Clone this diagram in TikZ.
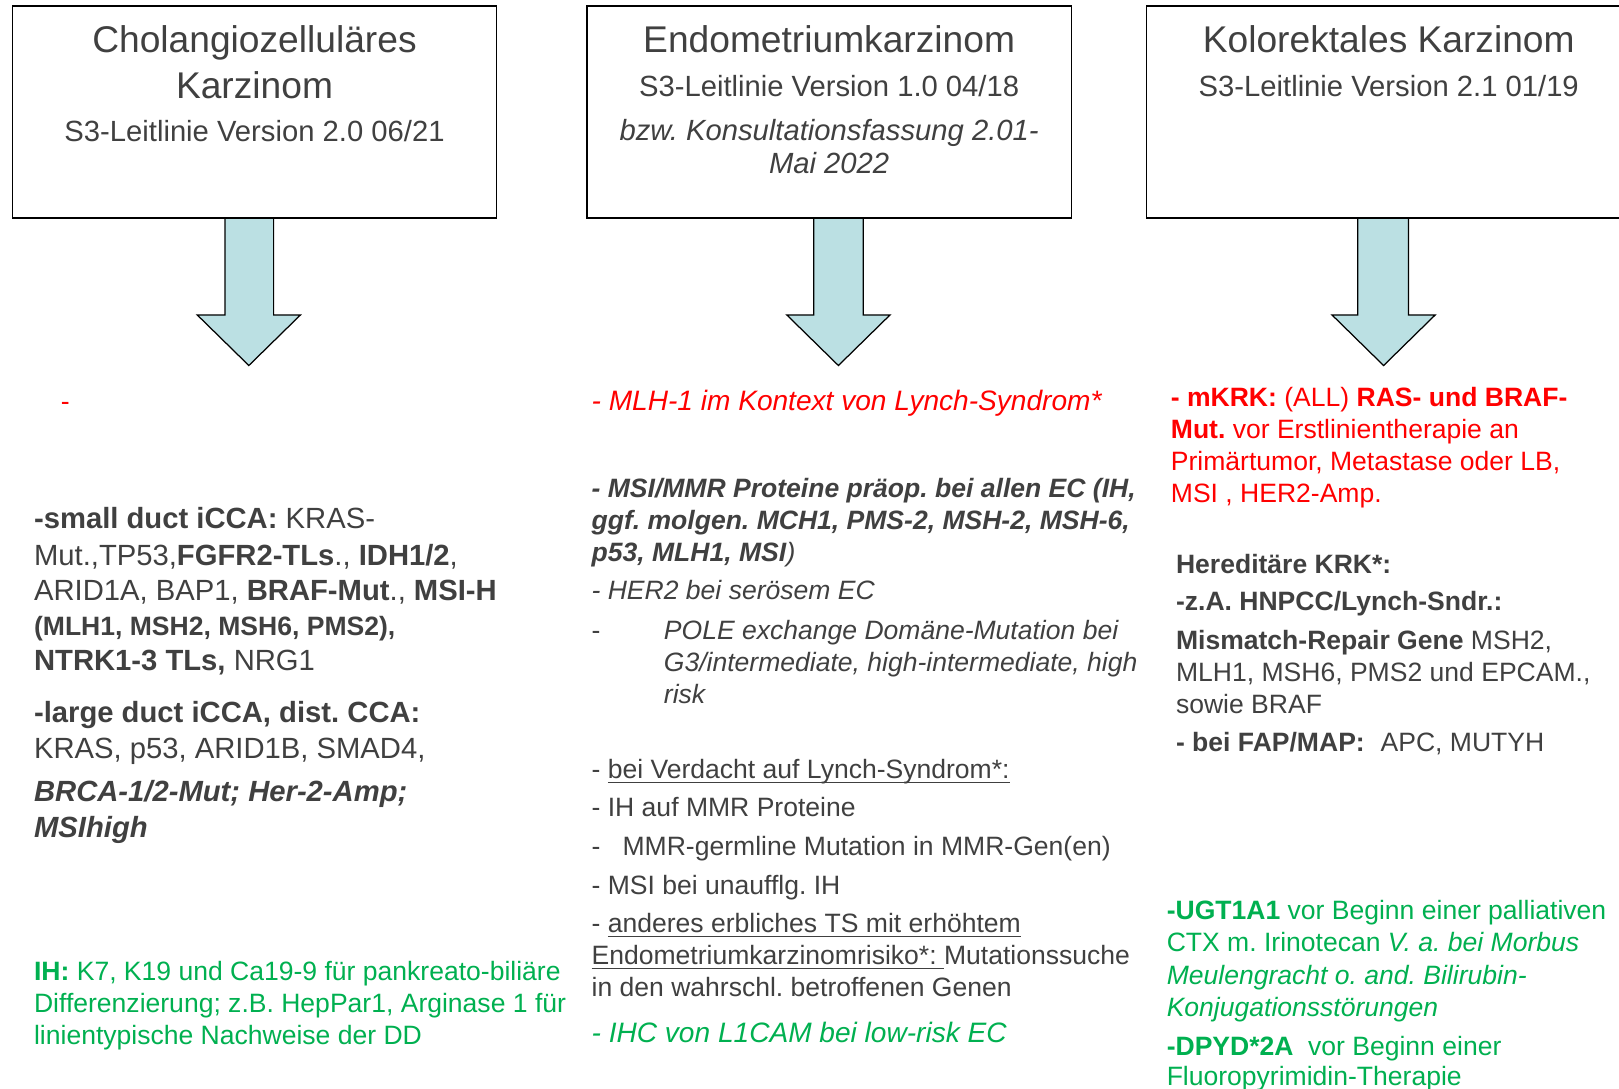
\documentclass[tikz,border=0pt]{standalone}
\usepackage{fontspec}
\setmainfont{Liberation Sans}
\frenchspacing
\newsavebox{\myulbox}
\newcommand{\myul}[1]{\sbox{\myulbox}{#1}\rlap{\rule[-4.5pt]{\wd\myulbox}{1.3pt}}\usebox{\myulbox}}
\definecolor{txtgray}{HTML}{404040}
\definecolor{myred}{HTML}{FF0000}
\definecolor{mygreen}{HTML}{00B050}
\definecolor{arrowblue}{HTML}{BBE0E3}
\newcommand{\fsbody}{\fontsize{25.7pt}{30pt}\selectfont}
\newcommand{\fsbig}{\fontsize{28.3pt}{33pt}\selectfont}
\newcommand{\fsred}{\fontsize{27.2pt}{32pt}\selectfont}
\newcommand{\fstitle}{\fontsize{36pt}{42pt}\selectfont}
\newcommand{\fssub}{\fontsize{28.3pt}{33pt}\selectfont}
\tikzset{
  tx/.style={anchor=base west, inner sep=0pt, outer sep=0pt, text=txtgray, font=\fsbody},
  txl/.style={tx, font=\fsbig},
  redtx/.style={tx, text=myred},
  greentx/.style={tx, text=mygreen},
  ttl/.style={anchor=base, inner sep=0pt, text=txtgray, font=\fstitle},
  subttl/.style={anchor=base, inner sep=0pt, text=txtgray, font=\fssub},
  box/.style={draw=black, line width=1.4pt, inner sep=0pt, minimum width=469pt, minimum height=205pt},
  blockarrow/.style={draw=black, line width=1.2pt, fill=arrowblue, line join=miter},
}
\begin{document}
\begin{tikzpicture}[x=1pt,y=-1pt]
\useasboundingbox (0,0) rectangle (1568,1054);
\fill[white] (0,0) rectangle (1568,1054);
\clip (0,0) rectangle (1568,1054);

% block arrows
\draw[blockarrow] (218,211) -- (265,211) -- (265,305) -- (291,305) -- (241,354) -- (191,305) -- (218,305) -- cycle;
\draw[blockarrow] (788,211) -- (836,211) -- (836,305) -- (862,305) -- (812,354) -- (762,305) -- (788,305) -- cycle;
\draw[blockarrow] (1315,211) -- (1364,211) -- (1364,305) -- (1390,305) -- (1340,354) -- (1290,305) -- (1315,305) -- cycle;

% boxes
\node[box] (b1) at (246.5,108.5) {};
\node[box] (b2) at (803,108.5) {};
\node[box] (b3) at (1345,108.5) {};

% titles
\node[ttl] (t1a) at (246.5,51) {Cholangiozelluläres};
\node[ttl] (t1b) at (246.5,95) {Karzinom};
\node[subttl] (t1c) at (246.5,137.5) {S3-Leitlinie Version 2.0 06/21};
\node[ttl] (t2a) at (803,51) {Endometriumkarzinom};
\node[subttl] (t2b) at (803,93.5) {S3-Leitlinie Version 1.0 04/18};
\node[subttl, font=\fssub\itshape] (t2c) at (803,136.5) {bzw. Konsultationsfassung 2.01-};
\node[subttl, font=\fssub\itshape] (t2d) at (803,168.5) {Mai 2022};
\node[ttl] (t3a) at (1345,51) {Kolorektales Karzinom};
\node[subttl] (t3b) at (1345,93.5) {S3-Leitlinie Version 2.1 01/19};

\begin{scope}[shift={(0,2)}]
% left column
\node[redtx] (l0) at (59,396) {-};
\node[txl] (l1) at (33,510) {\textbf{-small duct iCCA:} KRAS-};
\node[txl] (l2) at (33,546) {Mut.,TP53,\textbf{FGFR2-TLs}., \textbf{IDH1/2},};
\node[txl] (l3) at (33,580) {ARID1A, BAP1, \textbf{BRAF-Mut}., \textbf{MSI-H}};
\node[tx] (l4) at (33,613) {\textbf{(MLH1, MSH2, MSH6, PMS2),}};
\node[txl] (l5) at (33,647) {\textbf{NTRK1-3 TLs,} NRG1};
\node[txl] (l6) at (33,698) {\textbf{-large duct iCCA, dist. CCA:}};
\node[txl] (l7) at (33,733) {KRAS, p53, ARID1B, SMAD4,};
\node[txl] (l8) at (33,774) {\textbf{\textit{BRCA-1/2-Mut; Her-2-Amp;}}};
\node[txl] (l9) at (33,809) {\textbf{\textit{MSIhigh}}};
\node[greentx] (g1) at (33,948) {\textbf{IH:} K7, K19 und Ca19-9 für pankreato-biliäre};
\node[greentx] (g2) at (33,979) {Differenzierung; z.B. HepPar1, Arginase 1 für};
\node[greentx] (g3) at (33,1010) {linientypische Nachweise der DD};

% middle column
\node[redtx, font=\fsred\itshape] (m1) at (573,396) {- MLH-1 im Kontext von Lynch-Syndrom*};
\node[tx] (m2) at (573,480) {\textbf{\textit{- MSI/MMR Proteine präop. bei allen EC (IH,}}};
\node[tx] (m3) at (573,511) {\textbf{\textit{ggf. molgen. MCH1, PMS-2, MSH-2, MSH-6,}}};
\node[tx] (m4) at (573,542) {\textbf{\textit{p53, MLH1, MSI}}\textit{)}};
\node[tx] (m5) at (573,579) {\textit{- HER2 bei serösem EC}};
\node[tx] (m6a) at (573,617) {-};
\node[tx] (m6) at (643,617) {\textit{POLE exchange Domäne-Mutation bei}};
\node[tx] (m7) at (643,648) {\textit{G3/intermediate, high-intermediate, high}};
\node[tx] (m8) at (643,679) {\textit{risk}};
\node[tx] (m9) at (573,752) {- \myul{bei Verdacht auf Lynch-Syndrom*:}};
\node[tx] (m10) at (573,789) {- IH auf MMR Proteine};
\node[tx] (m11a) at (573,827) {-};
\node[tx] (m11) at (603,827) {MMR-germline Mutation in MMR-Gen(en)};
\node[tx] (m12) at (573,864) {- MSI bei unaufflg. IH};
\node[tx] (m13) at (573,901) {- \myul{anderes erbliches TS mit erhöhtem}};
\node[tx] (m14) at (573,932) {\myul{Endometriumkarzinomrisiko*:\ }Mutationssuche};
\node[tx] (m15) at (573,963) {in den wahrschl. betroffenen Genen};
\node[greentx, font=\fsred\itshape] (m16) at (573,1008) {- IHC von L1CAM bei low-risk EC};

% right column
\node[redtx] (r1) at (1134,392) {\textbf{- mKRK:} (ALL) \textbf{RAS- und BRAF-}};
\node[redtx] (r2) at (1134,423) {\textbf{Mut.} vor Erstlinientherapie an};
\node[redtx] (r3) at (1134,454) {Primärtumor, Metastase oder LB,};
\node[redtx] (r4) at (1134,485) {MSI , HER2-Amp.};
\node[tx] (r5) at (1139,553) {\textbf{Hereditäre KRK*:}};
\node[tx] (r6) at (1139,589) {\textbf{-z.A. HNPCC/Lynch-Sndr.:}};
\node[tx] (r7) at (1139,627) {\textbf{Mismatch-Repair Gene} MSH2,};
\node[tx] (r8) at (1139,658) {MLH1, MSH6, PMS2 und EPCAM.,};
\node[tx] (r9) at (1139,689) {sowie BRAF};
\node[tx] (r10) at (1139,726) {\textbf{- bei FAP/MAP:}\hspace{0.6em}APC, MUTYH};
\node[greentx] (r11) at (1130,889) {\textbf{-UGT1A1} vor Beginn einer palliativen};
\node[greentx] (r12) at (1130,920) {CTX m. Irinotecan \textit{V. a. bei Morbus}};
\node[greentx] (r13) at (1130,951) {\textit{Meulengracht o. and. Bilirubin-}};
\node[greentx] (r14) at (1130,982) {\textit{Konjugationsstörungen}};
\node[greentx] (r15) at (1130,1020) {\textbf{-DPYD*2A}\hspace{0.55em}vor Beginn einer};
\node[greentx] (r16) at (1130,1049) {Fluoropyrimidin-Therapie};
\end{scope}
\end{tikzpicture}
\end{document}
